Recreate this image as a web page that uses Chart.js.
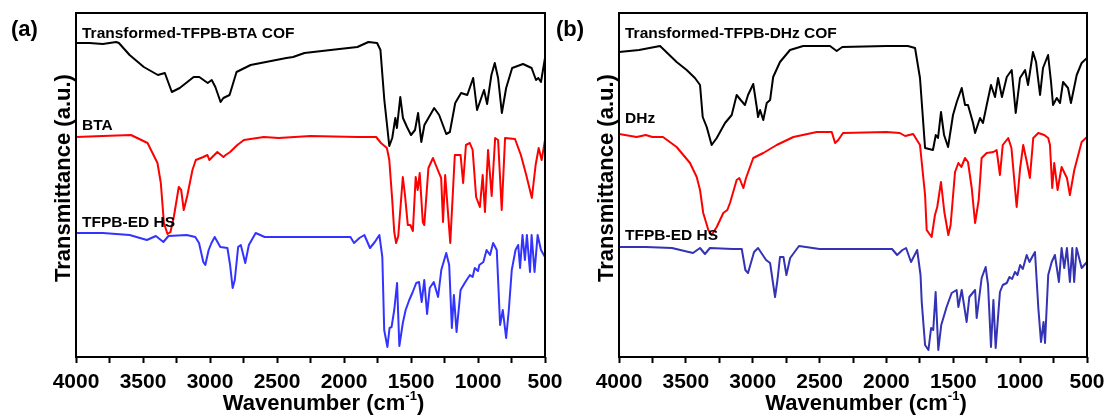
<!DOCTYPE html>
<html>
<head>
<meta charset="utf-8">
<script src="https://cdn.jsdelivr.net/npm/chart.js@4.4.1/dist/chart.umd.min.js"></script>
<style>
  html, body { margin: 0; padding: 0; background: #fff; }
  body { width: 1105px; height: 416px; position: relative; overflow: hidden; }
  canvas { position: absolute; top: 0; }
  #panelA { left: 0; }
  #panelB { left: 553px; }
</style>
</head>
<body>
<canvas id="panelA" width="580" height="416"></canvas>
<canvas id="panelB" width="552" height="416"></canvas>
<script>
// FTIR spectra, wavenumber (cm-1) and transmittance (a.u., offset per trace)

// (a) Transformed-TFPB-BTA COF
const cofBtaWn = [4000, 3900, 3800, 3700, 3680, 3600, 3494, 3389, 3337, 3285, 3226, 3122, 3080, 3017, 2987, 2960, 2921, 2900, 2854, 2802, 2697, 2430, 2380, 2295, 2034, 1900, 1818, 1753, 1728, 1699, 1662, 1640, 1617, 1605, 1580, 1560, 1530, 1500, 1470, 1447, 1423, 1400, 1327, 1290, 1237, 1210, 1170, 1126, 1080, 1036, 1007, 955, 932, 900, 875, 850, 822, 790, 745, 664, 600, 567, 550, 530, 500];
const cofBtaT = [314, 314, 313, 315, 314, 302, 290, 282, 284, 265, 269, 280, 280, 274, 277, 270, 255, 259, 262, 285, 292, 299, 300, 304, 308, 310, 315, 314, 307, 257, 211, 219, 239, 229, 260, 239, 230, 222, 227, 244, 215, 232, 249, 242, 223, 225, 254, 264, 262, 279, 247, 267, 253, 282, 294, 279, 244, 269, 289, 293, 289, 277, 279, 275, 299];

// (a) BTA
const btaWn = [4000, 3800, 3590, 3466, 3392, 3367, 3344, 3317, 3295, 3270, 3233, 3215, 3196, 3170, 3131, 3106, 3050, 3019, 3005, 2945, 2900, 2883, 2850, 2796, 2747, 2598, 2488, 2250, 1900, 1760, 1724, 1680, 1662, 1640, 1625, 1611, 1595, 1561, 1545, 1524, 1505, 1486, 1465, 1450, 1435, 1412, 1401, 1370, 1336, 1300, 1275, 1261, 1245, 1207, 1173, 1130, 1111, 1090, 1061, 1040, 1014, 986, 965, 948, 925, 898, 872, 850, 823, 798, 724, 680, 640, 598, 570, 547, 525, 500];
const btaT = [220, 221, 222, 214, 194, 174, 134, 123, 125, 140, 170, 167, 147, 161, 187, 197, 200, 202, 197, 205, 200, 202, 205, 212, 217, 220, 219, 221, 220, 220, 214, 209, 197, 157, 125, 114, 121, 180, 162, 132, 132, 126, 180, 167, 184, 135, 132, 189, 199, 187, 179, 135, 182, 114, 202, 202, 174, 212, 214, 207, 160, 150, 182, 145, 207, 161, 219, 217, 147, 219, 218, 202, 182, 159, 192, 209, 197, 217];

// (a) TFPB-ED HS
const edAWn = [4000, 3800, 3600, 3471, 3404, 3348, 3310, 3174, 3110, 3082, 3050, 3035, 3010, 2989, 2965, 2923, 2870, 2850, 2831, 2815, 2790, 2770, 2737, 2710, 2659, 2592, 2300, 1952, 1925, 1885, 1848, 1806, 1770, 1736, 1714, 1700, 1676, 1660, 1645, 1625, 1604, 1587, 1561, 1540, 1513, 1490, 1461, 1440, 1420, 1401, 1380, 1360, 1330, 1298, 1274, 1237, 1215, 1195, 1180, 1160, 1130, 1099, 1080, 1060, 1040, 1024, 1000, 990, 960, 936, 910, 887, 860, 835, 815, 790, 770, 748, 720, 700, 686, 668, 650, 635, 612, 600, 578, 555, 530, 500];
const edAT = [124, 124, 122, 117, 121, 115, 121, 122, 120, 114, 95, 92, 107, 114, 120, 110, 109, 92, 69, 77, 110, 112, 94, 112, 124, 120, 120, 120, 114, 119, 122, 109, 115, 122, 100, 27, 10, 29, 30, 47, 74, 11, 34, 47, 57, 64, 74, 75, 55, 77, 43, 69, 75, 60, 87, 104, 92, 29, 62, 25, 67, 74, 78, 82, 80, 89, 86, 92, 95, 107, 102, 114, 107, 32, 47, 19, 47, 87, 107, 112, 89, 122, 97, 122, 85, 122, 85, 122, 107, 100];

// (b) Transformed-TFPB-DHz COF
const cofDhzWn = [4000, 3850, 3693, 3569, 3494, 3432, 3394, 3374, 3344, 3307, 3269, 3207, 3157, 3120, 3090, 3058, 3035, 2996, 2970, 2960, 2945, 2921, 2895, 2870, 2847, 2796, 2721, 2623, 2422, 2372, 2330, 2000, 1840, 1786, 1749, 1711, 1652, 1631, 1614, 1592, 1569, 1539, 1502, 1474, 1437, 1412, 1390, 1352, 1337, 1300, 1278, 1250, 1218, 1188, 1165, 1136, 1100, 1063, 1033, 1001, 963, 941, 904, 881, 851, 829, 791, 769, 754, 726, 702, 679, 642, 620, 577, 540, 500];
const cofDhzT = [305, 307, 311, 295, 287, 279, 272, 240, 230, 212, 219, 234, 242, 262, 257, 252, 262, 273, 250, 240, 247, 237, 254, 257, 280, 295, 307, 311, 311, 306, 310, 311, 311, 309, 279, 209, 207, 222, 219, 245, 222, 210, 242, 255, 269, 252, 252, 234, 224, 239, 234, 252, 272, 260, 279, 260, 280, 287, 244, 279, 287, 272, 305, 295, 262, 289, 302, 275, 252, 259, 254, 275, 269, 254, 282, 294, 299];

// (b) DHz
const dhzWn = [4000, 3868, 3800, 3750, 3671, 3569, 3469, 3419, 3394, 3370, 3332, 3307, 3269, 3220, 3190, 3170, 3120, 3100, 3070, 3050, 2996, 2921, 2821, 2696, 2521, 2409, 2384, 2360, 2325, 2000, 1900, 1860, 1800, 1786, 1749, 1711, 1699, 1662, 1637, 1620, 1592, 1567, 1537, 1520, 1487, 1462, 1440, 1412, 1390, 1362, 1337, 1310, 1288, 1250, 1200, 1176, 1151, 1130, 1089, 1065, 1026, 1000, 977, 950, 927, 902, 864, 820, 790, 777, 760, 745, 720, 690, 650, 628, 595, 540, 500];
const dhzT = [223, 220, 222, 220, 220, 210, 194, 180, 167, 144, 127, 122, 130, 144, 147, 154, 177, 179, 169, 179, 199, 204, 212, 220, 225, 225, 214, 217, 224, 225, 224, 221, 223, 220, 212, 162, 127, 120, 142, 150, 175, 145, 122, 132, 185, 194, 190, 199, 195, 169, 134, 157, 199, 204, 205, 207, 182, 212, 219, 209, 150, 189, 212, 195, 179, 219, 224, 222, 219, 212, 169, 194, 167, 190, 179, 162, 187, 215, 220];

// (b) TFPB-ED HS
const edBWn = [4000, 3800, 3604, 3447, 3394, 3357, 3320, 3150, 3082, 3055, 3035, 2990, 2960, 2900, 2870, 2833, 2815, 2796, 2770, 2748, 2720, 2654, 2500, 1958, 1920, 1880, 1853, 1816, 1770, 1745, 1736, 1711, 1686, 1666, 1650, 1632, 1612, 1590, 1550, 1512, 1475, 1462, 1437, 1400, 1380, 1337, 1325, 1288, 1258, 1240, 1218, 1200, 1183, 1151, 1130, 1100, 1080, 1060, 1039, 1020, 1000, 980, 951, 930, 910, 889, 864, 844, 825, 814, 790, 764, 740, 710, 690, 670, 650, 628, 610, 596, 578, 540, 500];
const edBT = [110, 110, 109, 104, 109, 103, 109, 108, 108, 87, 84, 105, 109, 97, 94, 60, 77, 100, 100, 82, 99, 111, 108, 108, 102, 107, 109, 95, 107, 82, 55, 12, 7, 29, 27, 65, 7, 32, 50, 64, 67, 50, 67, 35, 60, 67, 39, 79, 90, 72, 10, 57, 9, 65, 72, 74, 80, 78, 85, 82, 92, 88, 102, 95, 100, 105, 49, 15, 35, 14, 82, 95, 102, 75, 109, 89, 109, 75, 109, 75, 109, 89, 95];

const FONT = '"Liberation Sans", Arial, sans-serif';

function toPoints(wn, t) {
  return wn.map((w, i) => ({ x: w, y: t[i] }));
}

function trace(wn, t, color) {
  return {
    data: toPoints(wn, t),
    borderColor: color,
    borderWidth: 2,
    pointRadius: 0,
    fill: false,
    tension: 0,
    borderJoinStyle: "round",
  };
}

// frame, panel letter, axis titles and trace labels
const panelDecor = {
  id: "panelDecor",
  afterDraw(chart, args, opts) {
    const { ctx, chartArea } = chart;
    const { left, top, right, bottom } = chartArea;
    ctx.save();
    ctx.strokeStyle = "#000";
    ctx.lineWidth = 2;
    ctx.strokeRect(left, top, right - left, bottom - top);

    ctx.fillStyle = "#000";
    ctx.textAlign = "left";
    ctx.textBaseline = "alphabetic";
    ctx.font = "bold 22px " + FONT;
    ctx.fillText(opts.letter, opts.letterX, 36);

    ctx.font = "bold 15.5px " + FONT;
    opts.labels.forEach((l) => ctx.fillText(l.text, left + 6, l.y));

    // y title
    ctx.save();
    ctx.translate(opts.yTitleX, 178);
    ctx.rotate(-Math.PI / 2);
    ctx.textAlign = "center";
    ctx.textBaseline = "middle";
    ctx.font = "bold 22px " + FONT;
    ctx.fillText("Transmittance (a.u.)", 0, 0);
    ctx.restore();

    // x title with superscript
    const main = "Wavenumber (cm";
    ctx.font = "bold 22px " + FONT;
    const w1 = ctx.measureText(main).width;
    const w3 = ctx.measureText(")").width;
    ctx.font = "bold 13px " + FONT;
    const w2 = ctx.measureText("-1").width;
    let x = (left + right) / 2 + 13 - (w1 + w2 + w3) / 2;
    ctx.font = "bold 22px " + FONT;
    ctx.fillText(main, x, 410);
    x += w1;
    ctx.font = "bold 13px " + FONT;
    ctx.fillText("-1", x, 400);
    x += w2;
    ctx.font = "bold 22px " + FONT;
    ctx.fillText(")", x, 410);
    ctx.restore();
  },
};

function makeChart(id, datasets, cfg) {
  return new Chart(document.getElementById(id).getContext("2d"), {
    type: "line",
    data: { datasets },
    plugins: [panelDecor],
    options: {
      responsive: false,
      animation: false,
      devicePixelRatio: 1,
      layout: { padding: { top: 13, right: cfg.padRight, bottom: 0, left: 0 } },
      plugins: {
        legend: { display: false },
        tooltip: { enabled: false },
        panelDecor: {
          letter: cfg.letter,
          letterX: cfg.letterX,
          labels: cfg.labels,
          yTitleX: cfg.yTitleX,
        },
      },
      scales: {
        x: {
          type: "linear",
          reverse: true,
          min: 500,
          max: 4000,
          ticks: {
            stepSize: 250,
            autoSkip: false,
            maxRotation: 0,
            padding: 7,
            color: "#000",
            font: { family: FONT, size: 21, weight: "bold" },
            callback: (v) => (Math.round(v) % 500 === 0 ? Math.round(v) : ""),
          },
          grid: {
            drawOnChartArea: false,
            drawTicks: true,
            tickLength: 6,
            tickWidth: 2,
            tickColor: "#000",
          },
          border: { display: false },
          afterFit: (s) => {
            s.height = 59;
            s.paddingLeft = 0;
            s.paddingRight = 0;
          },
        },
        y: {
          min: 0,
          max: 344,
          ticks: { display: false },
          grid: { display: false },
          border: { display: false },
          afterFit: (s) => {
            s.width = cfg.yAxisWidth;
          },
        },
      },
    },
  });
}

makeChart(
  "panelA",
  [
    trace(cofBtaWn, cofBtaT, "#000000"),
    trace(btaWn, btaT, "#ff0000"),
    trace(edAWn, edAT, "#3333ff"),
  ],
  {
    padRight: 35,
    yAxisWidth: 76,
    yTitleX: 64,
    letter: "(a)",
    letterX: 11,
    labels: [
      { text: "Transformed-TFPB-BTA COF", y: 38 },
      { text: "BTA", y: 130 },
      { text: "TFPB-ED HS", y: 227 },
    ],
  }
);

makeChart(
  "panelB",
  [
    trace(cofDhzWn, cofDhzT, "#000000"),
    trace(dhzWn, dhzT, "#ff0000"),
    trace(edBWn, edBT, "#3333b3"),
  ],
  {
    padRight: 18,
    yAxisWidth: 66,
    yTitleX: 54,
    letter: "(b)",
    letterX: 3,
    labels: [
      { text: "Transformed-TFPB-DHz COF", y: 38 },
      { text: "DHz", y: 123 },
      { text: "TFPB-ED HS", y: 240 },
    ],
  }
);
</script>
</body>
</html>
